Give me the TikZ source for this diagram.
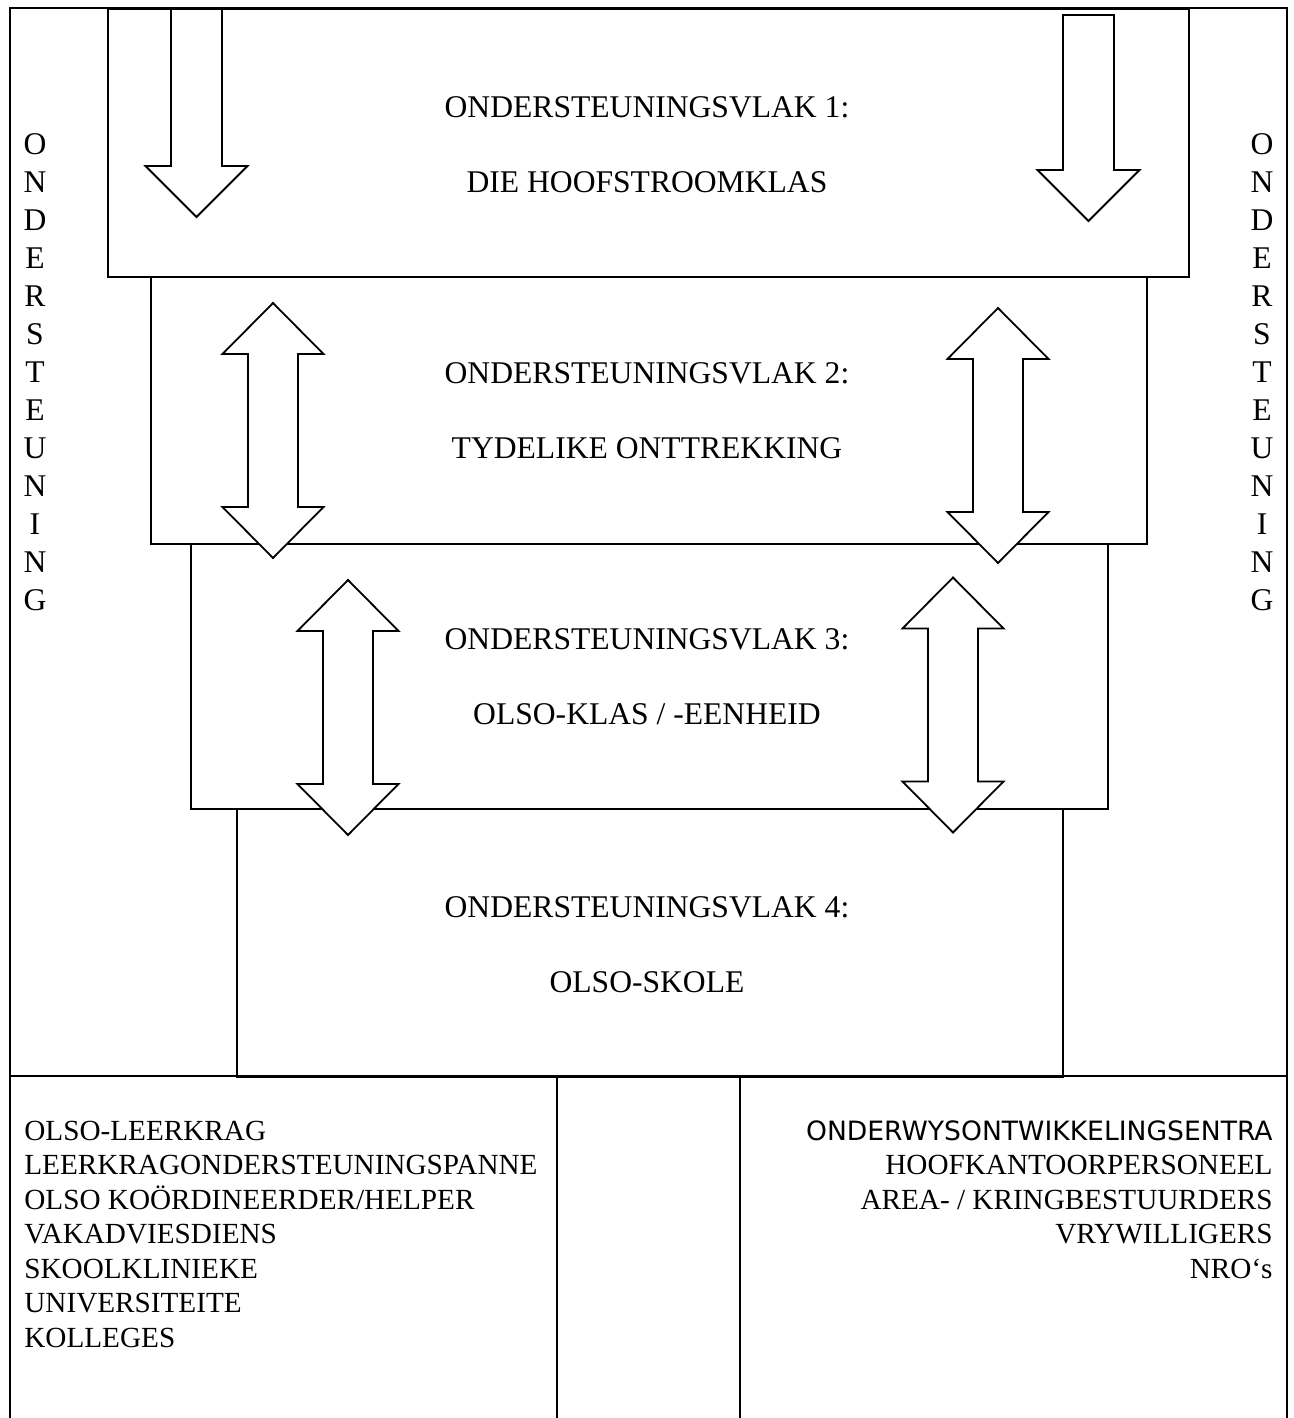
\documentclass[tikz,border=0pt]{standalone}
\usepackage{fontspec}
\setmainfont{Liberation Serif}
\newfontfamily\sansfont{DejaVu Sans}
\usetikzlibrary{positioning}

\begin{document}
\begin{tikzpicture}[
    x=0.5pt, y=-0.5pt,
    vlak/.style={draw, line width=0.9pt, anchor=north west, inner sep=0pt},
    vlaktext/.style={align=center, inner sep=0pt, font=\fontsize{15.8}{37.5}\selectfont},
    kant/.style={align=center, inner sep=0pt, font=\fontsize{15.8}{19}\selectfont},
    lys/.style={inner sep=0pt, font=\fontsize{14.6}{17.25}\selectfont},
    raam/.style={line width=0.9pt},
    blok/.style={draw, fill=white, line width=0.9pt, line join=miter},
    pics/dubbelpyl/.style={code={
        \draw[blok] (0,-127.5) -- (50.5,-76.5) -- (25,-76.5) -- (25,76.5) -- (50.5,76.5)
            -- (0,127.5) -- (-50.5,76.5) -- (-25,76.5) -- (-25,-76.5) -- (-50.5,-76.5) -- cycle;
    }},
    pics/afpyl/.style={code={
        \draw[blok] (0,0) -- (51,-51) -- (25.5,-51) -- (25.5,-#1) -- (-25.5,-#1)
            -- (-25.5,-51) -- (-51,-51) -- cycle;
    }}
]
\useasboundingbox (0,0) rectangle (1294,1418);

% Outer frame
\draw[raam] (10,1418) -- (10,8) -- (1287,8) -- (1287,1418);
\draw[raam] (10,1076) -- (1287,1076);
\draw[raam] (557,1076) -- (557,1418);
\draw[raam] (740,1076) -- (740,1418);

% Support levels
\node[vlak, minimum width=540.5pt, minimum height=134pt] (vlak1) at (107,8) {};
\node[vlak, minimum width=498pt, minimum height=133.5pt] (vlak2) at (150,276) {};
\node[vlak, minimum width=458.5pt, minimum height=132.5pt] (vlak3) at (190,543) {};
\node[vlak, minimum width=413pt, minimum height=134pt] (vlak4) at (236,808) {};

% Arrows
\pic at (196.5,217) {afpyl=208};
\pic at (1088.5,221) {afpyl=206};
\pic at (273,430.5) {dubbelpyl};
\pic at (998,435.5) {dubbelpyl};
\pic at (348,707.5) {dubbelpyl};
\pic at (953,705) {dubbelpyl};

% Level texts
\node[vlaktext] (teks1) at (647,145) {ONDERSTEUNINGSVLAK 1:\\DIE HOOFSTROOMKLAS};
\node[vlaktext] (teks2) at (647,411) {ONDERSTEUNINGSVLAK 2:\\TYDELIKE ONTTREKKING};
\node[vlaktext] (teks3) at (647,677) {ONDERSTEUNINGSVLAK 3:\\OLSO-KLAS / -EENHEID};
\node[vlaktext] (teks4) at (647,945) {ONDERSTEUNINGSVLAK 4:\\OLSO-SKOLE};

% Side labels
\node[kant, anchor=base] (kantlinks) at (35,610) {O\\N\\D\\E\\R\\S\\T\\E\\U\\N\\I\\N\\G};
\node[kant, anchor=base] (kantregs) at (1262,610) {O\\N\\D\\E\\R\\S\\T\\E\\U\\N\\I\\N\\G};

% Support sources
\node[lys, align=left, anchor=base west] (lyslinks) at (24,1347)
    {OLSO-LEERKRAG\\LEERKRAGONDERSTEUNINGSPANNE\\OLSO KOÖRDINEERDER/HELPER\\VAKADVIESDIENS\\SKOOLKLINIEKE\\UNIVERSITEITE\\KOLLEGES};
\node[lys, align=right, anchor=base east] (lysregs) at (1273,1278)
    {{\sansfont\fontsize{13.3}{17.25}\selectfont ONDERWYSONTWIKKELINGSENTRA}\\HOOFKANTOORPERSONEEL\\AREA- / KRINGBESTUURDERS\\VRYWILLIGERS\\NRO‘s};

\end{tikzpicture}
\end{document}
